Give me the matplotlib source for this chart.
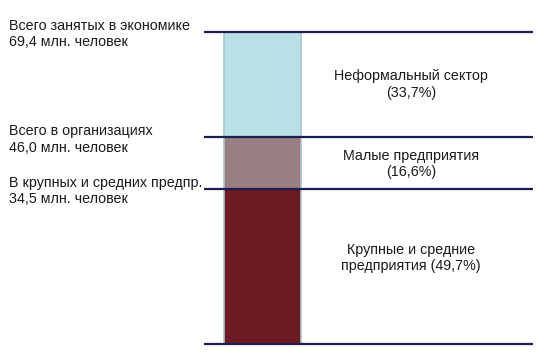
import matplotlib.pyplot as plt

plt.rcParams['font.family'] = ['Liberation Sans', 'DejaVu Sans']

# segments of the single stacked bar, bottom to top (млн. человек)
segments = ['Крупные и средние', 'Малые', 'Неформальный']
values = [34.5, 11.5, 23.4]
colors = ['#6b1a22', '#9a7f82', '#b8e0e6']

# levels marked by horizontal lines and their left captions
levels = [0.0, 34.5, 46.0, 69.4]
level_labels = ['',
                'В крупных и средних предпр.\n34,5 млн. человек',
                'Всего в организациях\n46,0 млн. человек',
                'Всего занятых в экономике\n69,4 млн. человек']

right_labels = ['Крупные и средние\nпредприятия (49,7%)',
                'Малые предприятия\n(16,6%)',
                'Неформальный сектор\n(33,7%)']

fig = plt.figure(figsize=(5.5, 3.53), dpi=100)
ax = fig.add_axes([0, 9 / 353, 1, 312 / 353])
ax.set_xlim(0, 550)
ax.set_ylim(0, 69.4)
ax.axis('off')

bottom = 0
for v, c in zip(values, colors):
    ax.bar(262.5, v, width=77, bottom=bottom, color=c,
           edgecolor='#a9c3cb', linewidth=1.2, zorder=2)
    bottom += v

for lv in levels:
    ax.plot([204, 533], [lv, lv], color='#1c1f4e', lw=1.6, zorder=3,
            solid_capstyle='butt', clip_on=False)

for lv, lab in zip(levels, level_labels):
    if lab:
        ax.text(9, lv - 0.5, lab, ha='left', va='center', fontsize=10.3,
                color='#1a1a1a', linespacing=1.2)

label_y = [19.1, 40.0, 57.7]
for y, lab in zip(label_y, right_labels):
    ax.text(411, y, lab, ha='center', va='center', fontsize=10.3,
            color='#1a1a1a', linespacing=1.2)

fig.savefig('out.png', dpi=100)
